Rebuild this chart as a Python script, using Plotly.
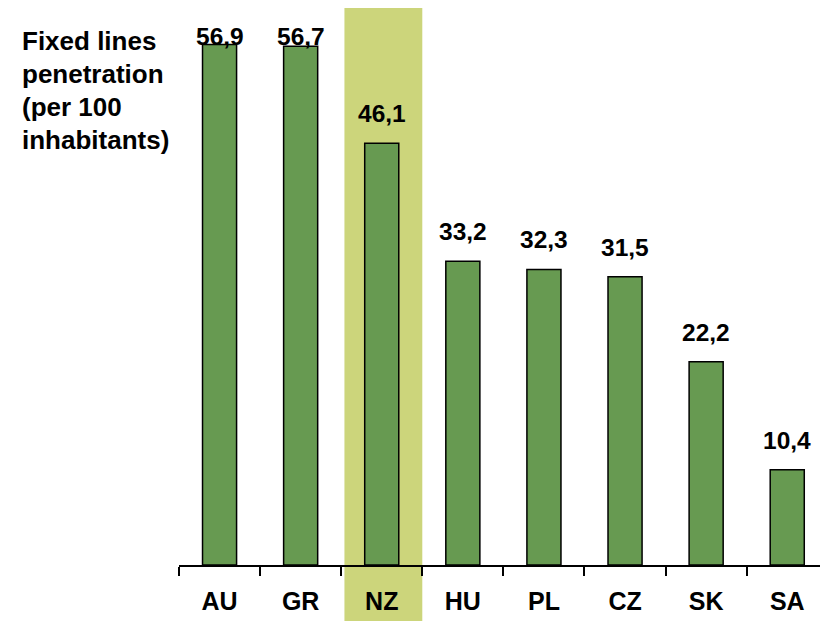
import plotly.graph_objects as go

# Fixed lines penetration per 100 inhabitants, by country
countries = ["AU", "GR", "NZ", "HU", "PL", "CZ", "SK", "SA"]
penetration = [56.9, 56.7, 46.1, 33.2, 32.3, 31.5, 22.2, 10.4]
title_lines = ["Fixed lines", "penetration", "(per 100", "inhabitants)"]
highlight = "NZ"

BAR_GREEN = "#679A51"
HILITE = "#CCD57B"
FONT = "Liberation Sans, Arial, sans-serif"

W, H = 820, 621
ML, MB, MT, MR = 179, 56, 0, 0
plot_h = H - MT - MB
plot_w = W - ML - MR
x_range = [-0.5, 7.404]
y_max = 61.75
px_per_unit = plot_h / y_max

fig = go.Figure()
fig.add_trace(go.Bar(
    x=countries,
    y=penetration,
    width=0.42,
    marker=dict(color=BAR_GREEN, line=dict(color="black", width=1.5)),
    hoverinfo="x+y",
))

# value labels above bars, kept inside the top of the page
label_cap = 56.75
for c, v in zip(countries, penetration):
    base = min(v + 20 / px_per_unit, label_cap)
    fig.add_annotation(
        x=c, y=base, xref="x", yref="y",
        text="<b>" + f"{v:.1f}".replace(".", ",") + "</b>",
        showarrow=False, yanchor="bottom", yshift=-6,
        font=dict(family=FONT, size=24.5, color="black"),
    )

# axis title block at top-left
for i, line in enumerate(title_lines):
    fig.add_annotation(
        xref="paper", yref="paper",
        x=(20 - ML) / plot_w, y=1 - (41 + 33 * i - MT) / plot_h,
        xanchor="left", yanchor="middle",
        text="<b>" + line + "</b>", showarrow=False,
        font=dict(family=FONT, size=26, color="black"),
    )

# highlight band behind the selected country
idx = countries.index(highlight)
span = x_range[1] - x_range[0]
fig.add_shape(
    type="rect", layer="below", xref="paper", yref="paper",
    x0=(idx - 0.46 - x_range[0]) / span, x1=(idx + 0.5 - x_range[0]) / span,
    y0=(plot_h + MT - H) / plot_h, y1=1 - (8 - MT) / plot_h,
    fillcolor=HILITE, line=dict(width=0),
)

fig.update_layout(
    width=W, height=H,
    margin=dict(l=ML, r=MR, t=MT, b=MB, pad=0),
    paper_bgcolor="white", plot_bgcolor="rgba(0,0,0,0)",
    showlegend=False,
    bargap=0.58,
    xaxis=dict(
        type="category", range=x_range,
        showline=True, linecolor="black", linewidth=1.5,
        ticks="outside", tickson="boundaries", ticklen=9, tickwidth=1.5, tickcolor="black",
        tickfont=dict(family=FONT, size=25, color="black"),
        tickprefix="<b>", ticksuffix="</b>",
        ticklabelstandoff=13,
        showgrid=False, zeroline=False,
    ),
    yaxis=dict(range=[0, y_max], visible=False, showgrid=False, zeroline=False),
)

fig.write_html("out.html")
